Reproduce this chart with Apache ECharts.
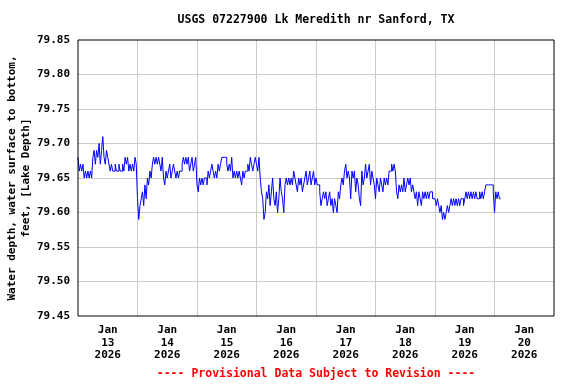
<!DOCTYPE html>
<html>
<head>
<meta charset="utf-8">
<script src="https://cdn.jsdelivr.net/npm/echarts@6/dist/echarts.min.js"></script>
<style>html,body{margin:0;padding:0;background:#fff;}#c{width:576px;height:384px;}</style>
</head>
<body>
<div id="c"></div>
<script>
const titleText = 'USGS 07227900 Lk Meredith nr Sanford, TX';
const yNameLine1 = 'Water depth, water surface to bottom,';
const yNameLine2 = 'feet, [Lake Depth]';
const footText = '---- Provisional Data Subject to Revision ----';
const dayLabels = ['13', '14', '15', '16', '17', '18', '19', '20'];
const monthLabel = 'Jan';
const yearLabel = '2026';
const stepHours = 0.5; // readings every 30 minutes from Jan 13 00:00
const depth = [
  79.68,79.66,79.67,79.66,79.67,79.65,79.66,79.65,79.66,79.65,79.66,79.65,
  79.68,79.69,79.67,79.69,79.68,79.70,79.67,79.69,79.71,79.68,79.67,79.69,
  79.68,79.67,79.66,79.67,79.66,79.66,79.67,79.66,79.66,79.67,79.66,79.66,
  79.67,79.66,79.68,79.67,79.68,79.66,79.67,79.66,79.67,79.66,79.68,79.67,
  79.62,79.59,79.61,79.62,79.63,79.61,79.64,79.62,79.65,79.64,79.66,79.65,
  79.67,79.68,79.67,79.68,79.67,79.68,79.67,79.66,79.68,79.65,79.64,79.66,
  79.65,79.66,79.67,79.65,79.66,79.67,79.66,79.65,79.66,79.65,79.66,79.66,
  79.67,79.68,79.67,79.68,79.67,79.68,79.66,79.67,79.68,79.66,79.67,79.68,
  79.64,79.63,79.65,79.64,79.65,79.64,79.65,79.65,79.64,79.66,79.65,79.66,
  79.67,79.66,79.65,79.66,79.65,79.67,79.66,79.67,79.68,79.68,79.68,79.68,
  79.67,79.66,79.67,79.66,79.68,79.65,79.66,79.65,79.66,79.65,79.66,79.65,
  79.64,79.66,79.65,79.66,79.66,79.67,79.66,79.68,79.67,79.66,79.67,79.68,
  79.67,79.66,79.68,79.65,79.63,79.62,79.59,79.60,79.63,79.62,79.64,79.61,
  79.63,79.65,79.62,79.61,79.63,79.60,79.62,79.65,79.63,79.62,79.60,79.64,
  79.65,79.64,79.65,79.64,79.65,79.64,79.66,79.65,79.64,79.63,79.65,79.64,
  79.65,79.63,79.64,79.65,79.66,79.64,79.65,79.66,79.64,79.65,79.66,79.64,
  79.65,79.64,79.64,79.63,79.61,79.62,79.63,79.62,79.63,79.61,79.62,79.63,
  79.61,79.62,79.60,79.62,79.61,79.60,79.63,79.62,79.64,79.65,79.64,79.66,
  79.67,79.65,79.66,79.65,79.62,79.66,79.65,79.66,79.63,79.65,79.64,79.62,
  79.61,79.66,79.64,79.65,79.67,79.65,79.66,79.67,79.64,79.66,79.65,79.64,
  79.62,79.65,79.64,79.63,79.65,79.64,79.63,79.65,79.64,79.65,79.64,79.66,
  79.66,79.67,79.66,79.67,79.66,79.63,79.62,79.64,79.63,79.64,79.63,79.65,
  79.63,79.64,79.65,79.64,79.65,79.63,79.64,79.63,79.62,79.63,79.61,79.63,
  79.62,79.61,79.63,79.62,79.63,79.62,79.63,79.62,79.63,79.63,79.62,79.62,
  79.62,79.61,79.62,79.61,79.60,79.61,79.59,79.60,79.59,79.60,79.61,79.60,
  79.61,79.62,79.61,79.62,79.61,79.62,79.61,79.62,79.61,79.62,79.62,79.61,
  79.62,79.63,79.62,79.63,79.62,79.63,79.62,79.63,79.62,79.63,79.62,79.62,
  79.63,79.62,79.63,79.62,79.63,79.64,79.64,79.64,79.64,79.64,79.64,79.63,
  79.60,79.63,79.62,79.63,79.62,79.62
];

const FONT = '"DejaVu Sans Mono", "Liberation Mono", monospace';
const seriesData = depth.map((v, i) => [i * stepHours, v]);

const chart = echarts.init(document.getElementById('c'), null, {renderer: 'canvas'});
chart.setOption({
  animation: false,
  backgroundColor: '#ffffff',
  grid: {left: 78, right: 22, top: 40, bottom: 68, show: true, borderColor: '#000000', borderWidth: 1, backgroundColor: 'transparent', z: 10},
  xAxis: [
    {
      type: 'value', min: 0, max: 192, interval: 24,
      axisLine: {show: false}, axisTick: {show: false}, axisLabel: {show: false},
      splitLine: {show: true, showMinLine: false, showMaxLine: false, lineStyle: {color: '#cccccc', width: 1}}
    },
    {
      type: 'value', min: 0, max: 192, interval: 12, position: 'bottom',
      axisLine: {show: false}, axisTick: {show: false},
      splitLine: {show: false},
      axisLabel: {
        show: true, margin: 8, color: '#000', fontFamily: FONT, fontWeight: 'bold', fontSize: 11, lineHeight: 12.5,
        showMinLabel: false, showMaxLabel: false,
        formatter: function (v) {
          if (v % 24 !== 12) return '';
          const k = Math.round((v - 12) / 24);
          return monthLabel + '\n' + dayLabels[k] + '\n' + yearLabel;
        }
      }
    }
  ],
  yAxis: {
    type: 'value', min: 79.45, max: 79.85, interval: 0.05,
    axisLine: {show: false}, axisTick: {show: false},
    splitLine: {show: true, showMinLine: false, showMaxLine: false, lineStyle: {color: '#cccccc', width: 1}},
    axisLabel: {margin: 8, color: '#000', fontFamily: FONT, fontWeight: 'bold', fontSize: 11,
      formatter: v => v.toFixed(2)}
  },
  graphic: [
    {type: 'text', x: 316, y: 20, style: {text: titleText, align: 'center', verticalAlign: 'middle', fill: '#000', font: 'bold 11.5px ' + FONT}},
    {type: 'text', x: 12, y: 178, rotation: Math.PI / 2, style: {text: yNameLine1, align: 'center', verticalAlign: 'middle', fill: '#000', font: 'bold 11px ' + FONT}},
    {type: 'text', x: 26, y: 178, rotation: Math.PI / 2, style: {text: yNameLine2, align: 'center', verticalAlign: 'middle', fill: '#000', font: 'bold 11px ' + FONT}},
    {type: 'text', x: 316, y: 374.5, style: {text: footText, align: 'center', verticalAlign: 'middle', fill: '#ff0000', font: 'bold 11.5px ' + FONT}}
  ],
  series: [{
    type: 'line', xAxisIndex: 0, yAxisIndex: 0, data: seriesData,
    step: 'end', showSymbol: false, symbol: 'none',
    lineStyle: {color: '#0000ff', width: 1}
  }]
});
</script>
</body>
</html>
